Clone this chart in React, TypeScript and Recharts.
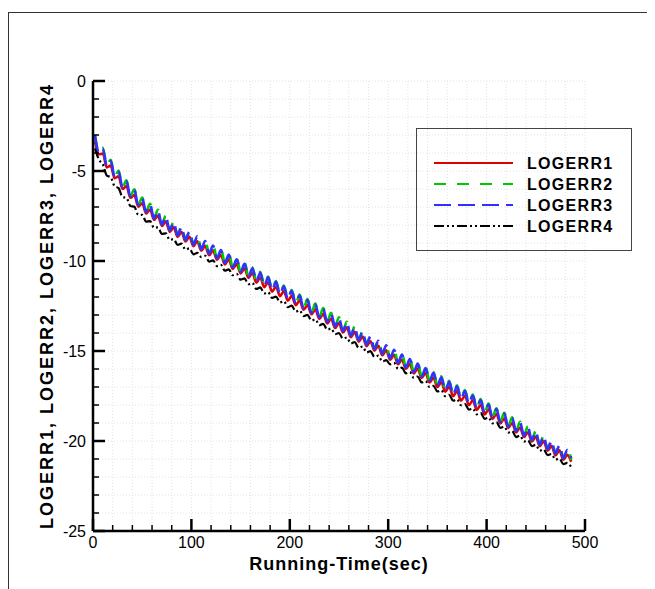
import { LineChart, Line, XAxis, YAxis, CartesianGrid } from 'recharts'

// running time (sec), sampled at the peaks / troughs of the oscillation
const TIME = [
    2, 6, 10, 14, 18, 22, 26, 30, 34, 38, 42, 46, 50, 54, 58, 62, 66, 70, 74, 78,
    82, 86, 90, 94, 98, 102, 106, 110, 114, 118, 122, 126, 130, 134, 138, 142, 146, 150, 154, 158,
    162, 166, 170, 174, 178, 182, 186, 190, 194, 198, 202, 206, 210, 214, 218, 222, 226, 230, 234, 238,
    242, 246, 250, 254, 258, 262, 266, 270, 274, 278, 282, 286, 290, 294, 298, 302, 306, 310, 314, 318,
    322, 326, 330, 334, 338, 342, 346, 350, 354, 358, 362, 366, 370, 374, 378, 382, 386, 390, 394, 398,
    402, 406, 410, 414, 418, 422, 426, 430, 434, 438, 442, 446, 450, 454, 458, 462, 466, 470, 474, 478,
    482, 486,
]

const LOGERR1 = [
    -3.35, -4.07, -4.03, -4.8, -4.7, -5.4, -5.3, -6.0, -5.84, -6.49,
    -6.33, -6.98, -6.79, -7.36, -7.14, -7.71, -7.48, -8.05, -7.81, -8.38,
    -8.13, -8.66, -8.39, -8.92, -8.65, -9.18, -8.9, -9.43, -9.16, -9.68,
    -9.41, -9.93, -9.66, -10.19, -9.91, -10.44, -10.17, -10.69, -10.42, -10.94,
    -10.67, -11.2, -10.92, -11.45, -11.18, -11.7, -11.43, -11.95, -11.68, -12.21,
    -11.93, -12.46, -12.19, -12.71, -12.44, -12.96, -12.69, -13.22, -12.94, -13.47,
    -13.2, -13.72, -13.45, -13.97, -13.7, -14.23, -13.95, -14.48, -14.2, -14.73,
    -14.46, -14.98, -14.71, -15.24, -14.96, -15.49, -15.21, -15.74, -15.47, -15.99,
    -15.72, -16.25, -15.97, -16.5, -16.22, -16.75, -16.48, -17.0, -16.73, -17.26,
    -16.98, -17.51, -17.23, -17.76, -17.49, -18.01, -17.74, -18.27, -17.99, -18.52,
    -18.24, -18.77, -18.5, -19.02, -18.75, -19.28, -19.0, -19.53, -19.25, -19.78,
    -19.51, -20.03, -19.76, -20.29, -20.01, -20.54, -20.27, -20.79, -20.52, -21.04,
    -20.77, -21.15,
]

const LOGERR2 = [
    -3.05, -3.97, -3.71, -4.7, -4.38, -5.3, -4.98, -5.9, -5.52, -6.39,
    -6.01, -6.88, -6.47, -7.26, -6.82, -7.61, -7.16, -7.95, -7.49, -8.28,
    -7.81, -8.56, -8.07, -8.82, -8.33, -9.08, -8.58, -9.33, -8.84, -9.58,
    -9.09, -9.83, -9.34, -10.09, -9.59, -10.34, -9.85, -10.59, -10.1, -10.84,
    -10.35, -11.1, -10.6, -11.35, -10.86, -11.6, -11.11, -11.85, -11.36, -12.11,
    -11.61, -12.36, -11.87, -12.61, -12.12, -12.86, -12.37, -13.12, -12.62, -13.37,
    -12.88, -13.62, -13.13, -13.87, -13.38, -14.13, -13.63, -14.38, -13.88, -14.63,
    -14.14, -14.88, -14.39, -15.14, -14.64, -15.39, -14.89, -15.64, -15.15, -15.89,
    -15.4, -16.15, -15.65, -16.4, -15.9, -16.65, -16.16, -16.9, -16.41, -17.16,
    -16.66, -17.41, -16.91, -17.66, -17.17, -17.91, -17.42, -18.17, -17.67, -18.42,
    -17.92, -18.67, -18.18, -18.92, -18.43, -19.18, -18.68, -19.43, -18.93, -19.68,
    -19.19, -19.93, -19.44, -20.19, -19.69, -20.44, -19.95, -20.69, -20.2, -20.94,
    -20.45, -21.05,
]

const LOGERR3 = [
    -3.0, -3.99, -3.76, -4.72, -4.43, -5.32, -5.03, -5.92, -5.57, -6.41,
    -6.06, -6.9, -6.52, -7.28, -6.87, -7.63, -7.21, -7.97, -7.54, -8.3,
    -7.86, -8.58, -8.12, -8.84, -8.38, -9.1, -8.63, -9.35, -8.89, -9.6,
    -9.14, -9.85, -9.39, -10.11, -9.64, -10.36, -9.9, -10.61, -10.15, -10.86,
    -10.4, -11.12, -10.65, -11.37, -10.91, -11.62, -11.16, -11.87, -11.41, -12.13,
    -11.66, -12.38, -11.92, -12.63, -12.17, -12.88, -12.42, -13.14, -12.67, -13.39,
    -12.93, -13.64, -13.18, -13.89, -13.43, -14.15, -13.68, -14.4, -13.93, -14.65,
    -14.19, -14.9, -14.44, -15.16, -14.69, -15.41, -14.94, -15.66, -15.2, -15.91,
    -15.45, -16.17, -15.7, -16.42, -15.95, -16.67, -16.21, -16.92, -16.46, -17.18,
    -16.71, -17.43, -16.96, -17.68, -17.22, -17.93, -17.47, -18.19, -17.72, -18.44,
    -17.97, -18.69, -18.23, -18.94, -18.48, -19.2, -18.73, -19.45, -18.98, -19.7,
    -19.24, -19.95, -19.49, -20.21, -19.74, -20.46, -20.0, -20.71, -20.25, -20.96,
    -20.5, -20.95,
]

const LOGERR4 = [
    -3.75, -4.37, -4.63, -5.25, -5.35, -5.85, -5.95, -6.45, -6.49, -6.94,
    -6.98, -7.43, -7.44, -7.81, -7.79, -8.16, -8.13, -8.5, -8.46, -8.83,
    -8.78, -9.11, -9.04, -9.37, -9.3, -9.63, -9.55, -9.78, -9.71, -10.03,
    -9.96, -10.28, -10.21, -10.54, -10.46, -10.79, -10.72, -11.04, -10.97, -11.29,
    -11.22, -11.55, -11.47, -11.8, -11.73, -12.05, -11.98, -12.3, -12.23, -12.56,
    -12.48, -12.81, -12.74, -13.06, -12.99, -13.31, -13.24, -13.57, -13.49, -13.82,
    -13.75, -14.07, -14.0, -14.32, -14.25, -14.58, -14.5, -14.83, -14.75, -15.08,
    -15.01, -15.33, -15.26, -15.59, -15.51, -15.74, -15.66, -15.99, -15.92, -16.24,
    -16.17, -16.5, -16.42, -16.75, -16.67, -17.0, -16.93, -17.25, -17.18, -17.51,
    -17.43, -17.76, -17.68, -18.01, -17.94, -18.26, -18.19, -18.52, -18.44, -18.77,
    -18.69, -19.02, -18.95, -19.27, -19.2, -19.53, -19.45, -19.78, -19.7, -20.03,
    -19.96, -20.28, -20.21, -20.54, -20.46, -20.79, -20.72, -21.04, -20.97, -21.29,
    -21.22, -21.45,
]

const X_TICKS = [0, 20, 40, 60, 80, 100, 120, 140, 160, 180, 200, 220, 240, 260, 280, 300, 320, 340, 360, 380, 400, 420, 440, 460, 480, 500]
const Y_TICKS = [-25, -24, -23, -22, -21, -20, -19, -18, -17, -16, -15, -14, -13, -12, -11, -10, -9, -8, -7, -6, -5, -4, -3, -2, -1, 0]

const SERIES = [
    { key: 'LOGERR1', color: '#e00000', dash: undefined, width: 2.6 },
    { key: 'LOGERR2', color: '#00c800', dash: '12 11', width: 2.6 },
    { key: 'LOGERR3', color: '#3030ff', dash: '17 7', width: 2.6 },
    { key: 'LOGERR4', color: '#000000', dash: '10 3 2 3 2 3', width: 2.2 },
]

const data = TIME.map((t, i) => ({
    t,
    LOGERR1: LOGERR1[i],
    LOGERR2: LOGERR2[i],
    LOGERR3: LOGERR3[i],
    LOGERR4: LOGERR4[i],
}))

const FONT = "'Liberation Sans', Arial, Helvetica, sans-serif"

const YTick = (props: any) => {
    const { x, y, payload } = props
    const major = payload.value % 5 === 0
    return (
        <g>
            <line x1={x} x2={x + (major ? 12 : 6)} y1={y} y2={y} stroke="#000" strokeWidth={major ? 2.5 : 1.5} />
            {major && (
                <text x={x - 7} y={y + 6} textAnchor="end" fontSize={16} fontFamily={FONT} fill="#000">
                    {payload.value}
                </text>
            )}
        </g>
    )
}

const XTick = (props: any) => {
    const { x, y, payload } = props
    const major = payload.value % 100 === 0
    return (
        <g>
            <line x1={x} x2={x} y1={y} y2={y - (major ? 12 : 6)} stroke="#000" strokeWidth={major ? 2.5 : 1.5} />
            {major && (
                <text x={x} y={y + 17} textAnchor="middle" fontSize={16} fontFamily={FONT} fill="#000">
                    {payload.value}
                </text>
            )}
        </g>
    )
}

const Legend = () => (
    <svg
        width={216}
        height={123}
        style={{ position: 'absolute', left: 408, top: 120, border: '1px solid #444', boxSizing: 'border-box' }}
    >
        {SERIES.map((s, i) => (
            <g key={s.key}>
                <line x1={17} x2={96} y1={34 + i * 21} y2={34 + i * 21} stroke={s.color} strokeWidth={2} strokeDasharray={s.dash} />
                <text x={110} y={40 + i * 21} fontSize={16} fontWeight="bold" fontFamily={FONT} letterSpacing={1.3} fill="#000">
                    {s.key}
                </text>
            </g>
        ))}
    </svg>
)

export default function App() {
    return (
        <div style={{ position: 'relative', width: 647, height: 581, overflow: 'hidden', background: '#fff' }}>
            <div
                style={{
                    position: 'absolute',
                    left: 0,
                    top: 4,
                    width: 700,
                    height: 700,
                    borderLeft: '1px solid #333',
                    borderTop: '1px solid #333',
                }}
            />
            <LineChart width={647} height={581} data={data} margin={{ top: 73, right: 70, bottom: 28, left: 25 }}>
                <CartesianGrid stroke="#e2e2e2" strokeDasharray="1 2" />
                <XAxis
                    dataKey="t"
                    type="number"
                    domain={[0, 500]}
                    ticks={X_TICKS}
                    interval={0}
                    height={30}
                    tickSize={0}
                    tickMargin={0}
                    tickLine={false}
                    tick={<XTick />}
                    axisLine={{ stroke: '#000', strokeWidth: 2.5 }}
                />
                <YAxis
                    type="number"
                    domain={[-25, 0]}
                    ticks={Y_TICKS}
                    interval={0}
                    width={60}
                    tickSize={0}
                    tickMargin={0}
                    tickLine={false}
                    tick={<YTick />}
                    axisLine={{ stroke: '#000', strokeWidth: 2.5 }}
                />
                {SERIES.map((s) => (
                    <Line
                        key={s.key}
                        type="monotone"
                        dataKey={s.key}
                        stroke={s.color}
                        strokeWidth={s.width}
                        strokeDasharray={s.dash}
                        dot={false}
                        isAnimationActive={false}
                    />
                ))}
            </LineChart>
            <Legend />
            <div
                style={{
                    position: 'absolute',
                    left: 39,
                    top: 298,
                    transform: 'translate(-50%, -50%) rotate(-90deg)',
                    whiteSpace: 'nowrap',
                    fontFamily: FONT,
                    fontWeight: 'bold',
                    fontSize: 18,
                    lineHeight: 1,
                    letterSpacing: 2,
                }}
            >
                LOGERR1, LOGERR2, LOGERR3, LOGERR4
            </div>
            <div
                style={{
                    position: 'absolute',
                    left: 331,
                    top: 556,
                    transform: 'translate(-50%, -50%)',
                    whiteSpace: 'nowrap',
                    fontFamily: FONT,
                    fontWeight: 'bold',
                    fontSize: 18,
                    lineHeight: 1,
                    letterSpacing: 1,
                }}
            >
                Running-Time(sec)
            </div>
        </div>
    )
}
